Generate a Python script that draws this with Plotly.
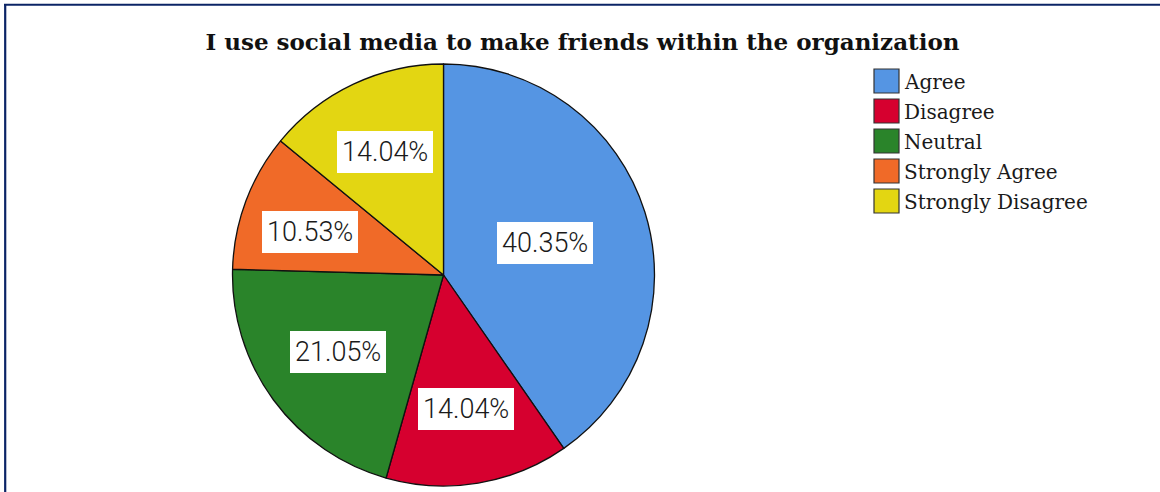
import math
import plotly.graph_objects as go

# Survey responses (percent of respondents)
categories = ["Agree", "Disagree", "Neutral", "Strongly Agree", "Strongly Disagree"]
percents = [40.35, 14.04, 21.05, 10.53, 14.04]
colors = ["#5595e3", "#d6002f", "#2a842a", "#f06a28", "#e3d612"]
title_text = "I use social media to make friends within the organization"

W, H = 1160, 492
CX, CY, R = 443.5, 275.0, 211.0  # pie centre and radius in pixels


def px(x):
    return x / W


def py(y):
    return 1 - y / H


fig = go.Figure()

fig.add_trace(go.Pie(
    labels=categories,
    values=percents,
    marker=dict(colors=colors, line=dict(color="#111111", width=1.3)),
    sort=False,
    direction="clockwise",
    rotation=0,
    textinfo="none",
    textposition="none",
    showlegend=False,
    hovertemplate="%{label}: %{value:.2f}%<extra></extra>",
    domain=dict(x=[px(CX - R), px(CX + R)], y=[py(CY + R), py(CY - R)]),
))

# ---- value labels: boxed, at each wedge's centroid, nudged to stay inside it
BOX_W, BOX_H, MARGIN = 98.0, 44.0, 3.0


def ang_of(dx, dy):
    """Clockwise angle from 12 o'clock, degrees, for a pixel offset."""
    return math.degrees(math.atan2(dx, -dy)) % 360


def inside(xc, yc, a0, a1):
    corners = [(xc + sx * BOX_W / 2, yc + sy * BOX_H / 2) for sx in (-1, 1) for sy in (-1, 1)]
    for x, y in corners:
        dx, dy = x - CX, y - CY
        if math.hypot(dx, dy) > R - MARGIN:
            return False
        a = ang_of(dx, dy)
        if not (a0 <= a <= a1):
            return False
        # keep clear of both radial edges
        for edge in (a0, a1):
            ex, ey = math.sin(math.radians(edge)), -math.cos(math.radians(edge))
            along = dx * ex + dy * ey
            perp = abs(dx * ey - dy * ex)
            if along > 0 and perp < MARGIN:
                return False
    return True


total = sum(percents)
start = 0.0
for cat, val in zip(categories, percents):
    span = 360.0 * val / total
    a0, a1 = start, start + span
    mid = math.radians(start + span / 2)
    alpha = math.radians(span)
    rc = 4 * R * math.sin(alpha / 2) / (3 * alpha)
    x0, y0 = CX + rc * math.sin(mid), CY - rc * math.cos(mid)
    best = (x0, y0)
    if not inside(x0, y0, a0, a1):
        cands = []
        for i in range(-80, 81):
            for j in range(-80, 81):
                xc, yc = x0 + i, y0 + j
                if inside(xc, yc, a0, a1):
                    cands.append((i * i + j * j, xc, yc))
        if cands:
            _, bx, by = min(cands)
            best = (bx, by)
    fig.add_annotation(
        x=px(best[0]), y=py(best[1]), xref="paper", yref="paper",
        text=f"{val:.2f}%", showarrow=False,
        xanchor="center", yanchor="middle",
        font=dict(family="Roboto, Liberation Sans, Arial, sans-serif", size=27,
                  weight=300, color="#1a1a1a"),
        bgcolor="#ffffff", borderpad=5, borderwidth=0,
    )
    start = a1

# ---- legend: square swatches with serif labels
LEG_X, LEG_Y, SW_W, SW_H, STEP = 874, 69, 25, 24, 30
for k, (cat, col) in enumerate(zip(categories, colors)):
    top = LEG_Y + k * STEP
    fig.add_shape(
        type="rect", xref="paper", yref="paper",
        x0=px(LEG_X), x1=px(LEG_X + SW_W), y0=py(top + SW_H), y1=py(top),
        fillcolor=col, line=dict(color="#333333", width=1.2),
    )
    fig.add_annotation(
        x=px(LEG_X + SW_W + 3), y=py(top + SW_H / 2 + 1), xref="paper", yref="paper",
        text=cat, showarrow=False, xanchor="left", yanchor="middle",
        font=dict(family="DejaVu Serif, serif", size=20, color="#1a1a1a"),
    )

# ---- frame lines along top and left
frame = "#0b2466"
fig.add_shape(type="line", xref="paper", yref="paper",
              x0=px(4), x1=1, y0=py(4.8), y1=py(4.8), line=dict(color=frame, width=2))
fig.add_shape(type="line", xref="paper", yref="paper",
              x0=px(5.2), x1=px(5.2), y0=0, y1=py(4), line=dict(color=frame, width=2.2))

fig.update_layout(
    width=W, height=H,
    margin=dict(l=0, r=0, t=0, b=0),
    paper_bgcolor="#ffffff", plot_bgcolor="#ffffff",
    title=dict(
        text=f"<b>{title_text}</b>",
        x=px(582.5), y=py(42), xanchor="center", yanchor="middle",
        xref="paper", yref="paper",
        font=dict(family="DejaVu Serif, serif", size=23, color="#111111"),
    ),
)

fig.write_html("out.html")
